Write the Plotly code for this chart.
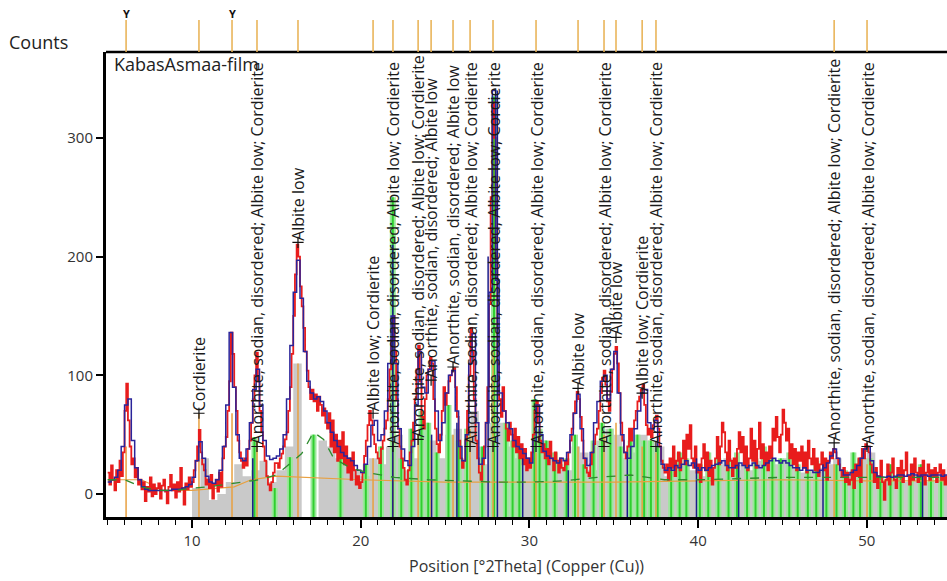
import numpy as np
import plotly.graph_objects as go

# ---------------- data ----------------
# observed scan, 0.1 deg steps from 5.0 to 55.0 deg 2Theta
two_theta_obs = np.round(np.arange(5.0, 55.0 + 1e-6, 0.1), 1)
counts_obs = [
    18, 8, 24, 12, 3, 20, 10, 28, 15, 35,          # 5
    70, 93, 62, 40, 25, 30, 14, 22, 8, 12,         # 6
    4, 10, -6, 6, 2, 14, -2, 8, 0, 5,              # 7
    9, -4, 7, 12, 2, -8, 6, 16, 3, 8,              # 8
    -3, 10, 2, 22, 5, -9, 9, 4, 14, 6,             # 9
    10, 20, 28, 40, 54, 35, 25, 20, 8, 12,         # 10
    5, 16, -4, 8, 12, 2, 18, 6, 30, 40,            # 11
    48, 70, 95, 136, 118, 90, 70, 45, 35, 28,      # 12
    22, 30, 24, 38, 45, 60, 80, 100, 119, 95,      # 13
    70, 52, 40, 28, 15, 8, 3, 10, 18, 26,          # 14
    26, 22, 30, 34, 40, 46, 52, 70, 90, 118,       # 15
    150, 185, 210, 200, 175, 158, 140, 120, 104, 90,  # 16
    80, 88, 78, 84, 70, 82, 75, 66, 72, 60,        # 17
    55, 68, 40, 62, 35, 50, 28, 45, 30, 52,        # 18
    25, 40, 18, 30, 12, 35, 20, 8, 15, 5,          # 19
    10, 18, 32, 45, 58, 70, 62, 50, 42, 35,        # 20
    30, 26, 38, 45, 55, 62, 80, 105, 130, 150,     # 21
    120, 80, 55, 40, 30, 22, 12, 8, 20, 35,        # 22
    45, 60, 80, 105, 125, 95, 65, 55, 80, 100,     # 23
    105, 115, 110, 80, 55, 42, 35, 50, 70, 90,     # 24
    75, 85, 95, 100, 104, 106, 90, 65, 45, 30,     # 25
    22, 28, 45, 70, 100, 140, 120, 80, 45, 30,     # 26
    18, 12, 25, 40, 60, 90, 160, 250, 330, 300,    # 27
    200, 110, 80, 65, 90, 70, 55, 45, 60, 50,      # 28
    40, 55, 35, 48, 30, 42, 25, 38, 20, 30,        # 29
    22, 35, 50, 70, 78, 60, 45, 35, 42, 30,        # 30
    38, 25, 44, 30, 20, 35, 28, 18, 30, 22,        # 31
    20, 28, 25, 35, 45, 55, 68, 78, 86, 80,        # 32
    65, 45, 30, 22, 18, 15, 25, 35, 42, 50,        # 33
    55, 70, 85, 98, 104, 92, 78, 70, 86, 105,      # 34
    118, 124, 110, 85, 60, 45, 35, 30, 40, 55,     # 35
    45, 55, 62, 70, 78, 82, 88, 92, 75, 58,        # 36
    50, 55, 48, 58, 62, 66, 55, 40, 28, 22,        # 37
    18, 25, 12, 30, 22, 40, 15, 28, 35, 20,        # 38
    30, 45, 25, 50, 38, 58, 30, 22, 40, 18,        # 39
    25, 10, 30, 42, 20, 35, 15, 28, 8, 22,         # 40
    30, 48, 25, 40, 60, 52, 35, 20, 45, 28,        # 41
    15, 30, 22, 38, 52, 35, 48, 25, 40, 20,        # 42
    30, 55, 28, 45, 22, 38, 60, 30, 42, 25,        # 43
    35, 20, 40, 30, 55, 45, 65, 48, 35, 50,        # 44
    71, 60, 45, 55, 30, 42, 25, 38, 20, 35,        # 45
    28, 40, 22, 35, 18, 45, 30, 25, 38, 20,        # 46
    30, 15, 25, 35, 20, 30, 12, 28, 35, 30,        # 47
    38, 35, 30, 25, 20, 15, 22, 10, 18, 8,         # 48
    12, 20, 5, 25, 15, 30, 10, 38, 30, 42,         # 49
    40, 35, 25, 18, 10, 22, 5, 15, 28, 10,         # 50
    -5, 12, 25, 8, 18, 30, 12, 5, 22, 15,          # 51
    28, 10, 20, 35, 15, 8, 25, 12, 30, 18,         # 52
    10, 22, 15, 28, 8, 18, 25, 12, 20, 15,         # 53
    22, 10, 18, 25, 12, 20, 8, 15, 22, 18,         # 54
    15,
]

# calculated profile, 0.2 deg steps
two_theta_calc = np.round(np.arange(5.0, 55.0 + 1e-6, 0.2), 1)
counts_calc = [
    10, 12, 14, 20, 40,      # 5
    75, 80, 45, 22, 12,      # 6
    6, 4, 3, 3, 3,           # 7
    3, 3, 3, 3, 4,           # 8
    4, 4, 5, 6, 8,           # 9
    14, 28, 44, 30, 15,      # 10
    10, 9, 12, 20, 40,       # 11
    75, 136, 90, 50, 30,     # 12
    28, 38, 60, 88, 105,     # 13
    75, 45, 32, 29, 30,      # 14
    32, 38, 50, 80, 125,     # 15
    170, 197, 165, 120, 95,  # 16
    85, 80, 82, 78, 70,      # 17
    60, 52, 45, 40, 35,      # 18
    32, 30, 28, 24, 20,      # 19
    18, 25, 40, 58, 62,      # 20
    45, 50, 70, 110, 150,    # 21
    110, 55, 38, 28, 24,     # 22
    40, 75, 120, 90, 85,     # 23
    105, 112, 70, 45, 60,    # 24
    85, 100, 104, 70, 40,    # 25
    28, 50, 110, 135, 60,    # 26
    25, 30, 60, 170, 340,    # 27
    180, 85, 70, 60, 55,     # 28
    45, 40, 38, 34, 30,      # 29
    26, 45, 75, 50, 36,      # 30
    32, 30, 28, 26, 30,      # 31
    28, 35, 50, 68, 84,      # 32
    55, 30, 24, 35, 60,      # 33
    78, 95, 100, 80, 105,    # 34
    120, 85, 50, 35, 30,     # 35
    40, 55, 70, 85, 88,      # 36
    60, 55, 62, 40, 25,      # 37
    20, 22, 20, 24, 22,      # 38
    25, 28, 24, 26, 22,      # 39
    20, 22, 20, 22, 24,      # 40
    25, 26, 28, 24, 22,      # 41
    22, 24, 26, 24, 22,      # 42
    24, 26, 24, 22, 24,      # 43
    26, 28, 30, 28, 26,      # 44
    28, 26, 24, 22, 22,      # 45
    20, 22, 20, 20, 18,      # 46
    18, 20, 22, 26, 32,      # 47
    38, 30, 20, 16, 16,      # 48
    18, 20, 24, 30, 38,      # 49
    40, 28, 18, 15, 14,      # 50
    14, 15, 14, 15, 16,      # 51
    16, 15, 16, 17, 16,      # 52
    15, 16, 16, 15, 16,      # 53
    16, 16, 15, 16, 16,      # 54
    16,
]

# fitted background (dashed)
two_theta_bg = [5.0, 6.0, 7.0, 8.0, 9.0, 10.0, 11.0, 12.0, 13.0, 14.0, 15.0, 16.0,
                16.5, 17.2, 17.8, 18.4, 19.4, 20.4, 22.0, 24.0, 26.0, 28.0, 30.0,
                32.0, 34.0, 36.0, 38.0, 40.0, 45.0, 50.0, 55.0]
counts_bg = [12, 12, 6, 3, 3, 5, 6, 8, 10, 12, 16, 28,
             34, 52, 46, 30, 22, 18, 14, 12, 11, 10, 10,
             11, 14, 16, 12, 12, 14, 14, 14]

# low baseline (orange)
two_theta_base = [5.0, 7.0, 7.6, 8.0, 10.0, 11.0, 12.5, 13.5, 15.0, 20.0, 25.0,
                  30.0, 35.0, 40.0, 45.0, 50.0, 55.0]
counts_base = [12, 12, 8, 3, 3, 4, 6, 12, 15, 12, 10, 10, 10, 11, 12, 11, 11]

# phase fill (grey), 0.5 deg steps from 9.5 deg
two_theta_fill = np.round(np.arange(9.5, 55.0 + 1e-6, 0.5), 1)
counts_fill = [
    -20, 5, 30, -5, 0, 10, 25, 15, 20, 28, 10,          # 9.5 - 14.5
    20, 40, 110, -20, -20, 45, 40, 30, 25, 20,          # 15.0 - 19.5
    15, 30, 25, 40, 50, 20, 30, 60, 45, 30,             # 20.0 - 24.5
    50, 55, 30, 70, 25, 60, 60, 40, 30, 25,             # 25.0 - 29.5
    30, 45, 30, 25, 20, 40, 35, 20, 45, 55,             # 30.0 - 34.5
    50, 30, 35, 50, 45, 40, 15, 20, 25, 20,             # 35.0 - 39.5
    15, 22, 25, 30, 20, 25, 20, 28, 30, 25,             # 40.0 - 44.5
    30, 22, 18, 20, 22, 25, 30, 15, 20, 30,             # 45.0 - 49.5
    35, 15, 12, 15, 10, 15, 12, 10, 12, 10,             # 50.0 - 54.5
    10,                                                 # 55.0
]

# phase sticks (green)
green_pos = [13.7, 14.9, 15.8, 17.2, 18.8, 20.3, 21.2, 21.9, 22.4, 23.0, 23.6, 24.0,
             24.5, 25.2, 25.8, 26.3, 27.2, 27.9, 28.6, 29.0, 29.4, 30.3, 30.6, 31.0,
             31.5, 32.2, 32.7, 33.2, 33.8, 34.3, 34.8, 35.4, 36.0, 36.4, 36.8, 37.2,
             37.6, 38.4, 38.9, 39.3, 40.1, 40.6, 41.2, 41.8, 42.3, 42.9, 43.4, 43.9,
             44.4, 44.9, 45.4, 45.9, 46.5, 47.0, 47.6, 48.2, 48.7, 49.2, 49.6, 50.2,
             50.8, 51.4, 52.0, 52.6, 53.2, 53.8, 54.4]
green_top = [48, 5, 31, 50, 35, 25, 40, 250, 30, 55, 70, 60,
             35, 75, 45, 55, 40, 335, 60, 45, 35, 80, 55, 45,
             35, 30, 50, 25, 45, 60, 55, 40, 45, 50, 45, 45,
             40, 25, 35, 30, 25, 35, 30, 28, 35, 25, 30, 40,
             30, 30, 35, 25, 20, 28, 20, 25, 20, 35, 30, 30,
             15, 25, 20, 15, 25, 20, 15]

# peak sticks (dark blue)
navy_pos = [13.6, 21.9, 24.2, 25.7, 27.55, 28.1, 29.6, 32.3, 35.8, 39.9, 42.4, 47.4, 53.3]
navy_top = [30, 210, 50, 60, 200, 340, 30, 20, 35, 30, 25, 25, 15]

# reference pattern positions (top strip) and their stick heights
ref_pos = [6.09, 10.41, 12.37, 13.85, 16.28, 20.73, 21.91, 23.40, 24.17, 25.47,
           26.48, 27.84, 30.39, 32.88, 34.42, 35.13, 36.68, 37.50, 48.06, 50.01]
ref_top = [40, 68, 68, 45, 110, 30, 60, 50, 45, 50,
           55, 120, 35, 40, 50, 60, 40, 35, 25, 25]
ref_unmatched = [6.09, 12.37]

# peak labels
LONG = "Anorthite, sodian, disordered; Albite low; Cordierite"
MID = "Anorthite, sodian, disordered; Albite low"
label_pos = [10.41, 13.85, 16.28, 20.73, 21.91, 23.40, 24.17, 25.47, 26.48,
             27.84, 30.39, 32.88, 34.42, 35.13, 36.68, 37.50, 48.06, 50.01]
label_base = [68, 40, 212, 68, 40, 46, 96, 107, 40,
              40, 40, 89, 40, 132, 85, 40, 43, 40]
label_text = ["Cordierite", LONG, "Albite low", "Albite low; Cordierite", LONG, LONG,
              MID, MID, LONG, LONG, LONG, "Albite low", LONG, "Albite low",
              "Albite low; Cordierite", LONG, LONG, LONG]

X_RANGE = [4.9, 54.75]
Y_RANGE = [-19.4, 372.4]
FONT = "Open Sans, Noto Sans, sans-serif"


def sticks(pos, top, floor):
    xs, ys = [], []
    for p, t in zip(pos, top):
        xs += [p, p, None]
        ys += [floor, t, None]
    return xs, ys


fig = go.Figure()

# grey phase fill down to the axis floor
fig.add_trace(go.Scatter(x=two_theta_fill, y=[Y_RANGE[0]] * len(two_theta_fill),
                         mode="lines", line=dict(width=0, shape="hv"),
                         hoverinfo="skip", showlegend=False))
fig.add_trace(go.Scatter(x=two_theta_fill, y=counts_fill, mode="lines",
                         line=dict(width=0, shape="hv"), fill="tonexty",
                         fillcolor="#c9c9c9", showlegend=False))

gx, gy = sticks(green_pos, green_top, Y_RANGE[0])
fig.add_trace(go.Scatter(x=gx, y=gy, mode="lines",
                         line=dict(color="#9be89b", width=6), showlegend=False))
fig.add_trace(go.Scatter(x=gx, y=gy, mode="lines",
                         line=dict(color="#2fcf2f", width=2), showlegend=False))

ox, oy = sticks(ref_pos, ref_top, Y_RANGE[0])
fig.add_trace(go.Scatter(x=ox, y=oy, mode="lines",
                         line=dict(color="#e8a040", width=1.5), showlegend=False))

fig.add_trace(go.Scatter(x=two_theta_base, y=counts_base, mode="lines",
                         line=dict(color="#e8a040", width=1.2), showlegend=False))

fig.add_trace(go.Scatter(x=two_theta_obs, y=counts_obs, mode="lines",
                         line=dict(color="#e81c1c", width=1.8, shape="hv"),
                         showlegend=False))

nx, ny = sticks(navy_pos, navy_top, Y_RANGE[0])
fig.add_trace(go.Scatter(x=nx, y=ny, mode="lines",
                         line=dict(color="#1b1b8a", width=1.5), showlegend=False))

fig.add_trace(go.Scatter(x=two_theta_calc, y=counts_calc, mode="lines",
                         line=dict(color="#2a249a", width=1.5, shape="hv"),
                         showlegend=False))

fig.add_trace(go.Scatter(x=two_theta_bg, y=counts_bg, mode="lines",
                         line=dict(color="#2e8b2e", width=1.3, dash="dash"),
                         showlegend=False))

# label anchors
fig.add_trace(go.Scatter(x=label_pos, y=label_base, mode="markers",
                         marker=dict(symbol="cross-thin", size=8,
                                     line=dict(color="#111111", width=1.2)),
                         showlegend=False))

annotations = []
for p, b, t in zip(label_pos, label_base, label_text):
    annotations.append(dict(x=p, y=b, xref="x", yref="y", text=t, textangle=-90,
                            xanchor="center", yanchor="bottom", showarrow=False,
                            font=dict(family=FONT, size=16, color="#1a1a1a")))

plot_w = 947 - 106
plot_h = 517 - 52
annotations.append(dict(x=(7 - 106) / plot_w, y=(517 - 42) / plot_h, xref="paper",
                        yref="paper", text="Counts", showarrow=False,
                        xanchor="left", yanchor="middle",
                        font=dict(family=FONT, size=18, color="#222222")))
annotations.append(dict(x=(112 - 106) / plot_w, y=(517 - 64) / plot_h, xref="paper",
                        yref="paper", text="KabasAsmaa-film", showarrow=False,
                        xanchor="left", yanchor="middle",
                        font=dict(family=FONT, size=18, color="#222222")))
for p in ref_unmatched:
    annotations.append(dict(x=p, y=(517 - 14) / plot_h, xref="x", yref="paper",
                            text="<b>Y</b>", showarrow=False, xanchor="center",
                            yanchor="middle",
                            font=dict(family=FONT, size=11, color="#111111")))

shapes = [dict(type="line", xref="paper", yref="paper", x0=0, x1=1, y0=1, y1=1,
               line=dict(color="black", width=2.5))]
for p in ref_pos:
    shapes.append(dict(type="line", xref="x", yref="paper", x0=p, x1=p,
                       y0=1.0, y1=(517 - 20) / plot_h,
                       line=dict(color="#e8b050", width=1.5)))

fig.update_layout(
    width=947, height=581,
    margin=dict(l=106, r=0, t=52, b=64),
    paper_bgcolor="white", plot_bgcolor="white",
    font=dict(family=FONT, color="#333333"),
    annotations=annotations, shapes=shapes,
    xaxis=dict(range=X_RANGE, showgrid=False, zeroline=False,
               showline=True, linecolor="black", linewidth=3,
               ticks="outside", ticklen=8, tickwidth=1.5, tickcolor="black",
               tick0=10, dtick=10, tickfont=dict(size=15, color="#333333"),
               minor=dict(dtick=1, ticks="outside", ticklen=5, tickwidth=1,
                          tickcolor="black"),
               title=dict(text="Position [°2Theta] (Copper (Cu))",
                          font=dict(size=16, color="#333333"), standoff=12)),
    yaxis=dict(range=Y_RANGE, showgrid=False, zeroline=False,
               showline=True, linecolor="black", linewidth=3,
               ticks="outside", ticklen=7, tickwidth=1.5, tickcolor="black",
               tick0=0, dtick=100, tickfont=dict(size=15, color="#333333")),
)

fig.write_html("out.html")
